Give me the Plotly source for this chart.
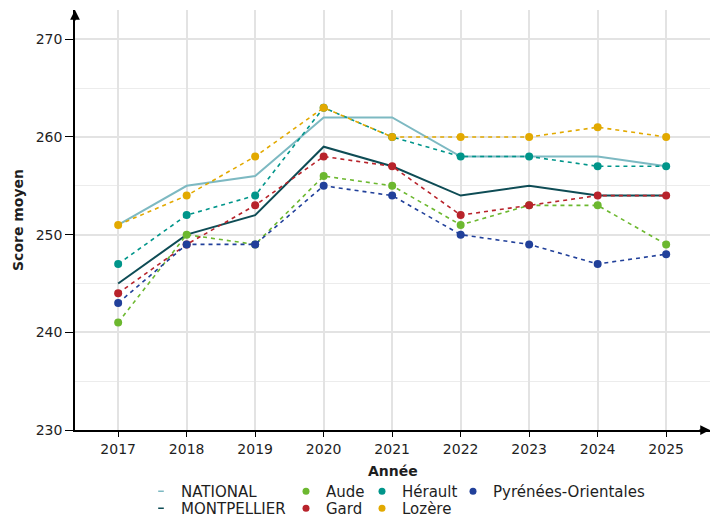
import plotly.graph_objects as go

years = [2017, 2018, 2019, 2020, 2021, 2022, 2023, 2024, 2025]
national = [251, 255, 256, 262, 262, 258, 258, 258, 257]
montpellier = [245, 250, 252, 259, 257, 254, 255, 254, 254]
aude = [241, 250, 249, 256, 255, 251, 253, 253, 249]
gard = [244, 249, 253, 258, 257, 252, 253, 254, 254]
herault = [247, 252, 254, 263, 260, 258, 258, 257, 257]
lozere = [251, 254, 258, 263, 260, 260, 260, 261, 260]
po = [243, 249, 249, 255, 254, 250, 249, 247, 248]

FONT = "DejaVu Sans"
TXT = "#1e1e1e"
fig = go.Figure()

# name, values, colour, legend text x (px), legend row
solid = [("NATIONAL", national, "#7db9c2", 181, 0),
         ("MONTPELLIER", montpellier, "#0e4c55", 181, 1)]
dashed = [("Aude", aude, "#6cb82f", 326, 0),
          ("Gard", gard, "#b8232b", 326, 1),
          ("Hérault", herault, "#00958a", 402, 0),
          ("Lozère", lozere, "#e2a900", 402, 1),
          ("Pyrénées-Orientales", po, "#21409a", 493, 0)]

for name, vals, col, _, _ in solid:
    fig.add_trace(go.Scatter(x=years, y=vals, mode="lines", name=name,
                             line=dict(color=col, width=2), showlegend=False))
for name, vals, col, _, _ in dashed:
    fig.add_trace(go.Scatter(x=years, y=vals, mode="lines+markers", name=name,
                             line=dict(color=col, width=1.6, dash="4px,4px"),
                             marker=dict(color=col, size=8), showlegend=False))

legends = {}
for i, (name, vals, col, tx, row) in enumerate(solid + dashed):
    key = "legend" if i == 0 else f"legend{i + 1}"
    if i < 2:
        marker = dict(symbol="line-ew", size=4, line=dict(color=col, width=1.5))
    else:
        marker = dict(color=col, size=7)
    fig.add_trace(go.Scatter(x=[None], y=[None], mode="markers", name=name,
                             marker=marker, legend=key, showlegend=True))
    top = 475 + 17 * row
    legends[key] = dict(x=(tx - 40) / 720, y=1 - top / 518,
                        xref="container", yref="container",
                        xanchor="left", yanchor="top", orientation="v",
                        font=dict(family=FONT, size=15, color=TXT),
                        bgcolor="rgba(0,0,0,0)", itemwidth=30)

fig.update_layout(
    width=720, height=518,
    margin=dict(l=75, r=10, t=10, b=88, autoexpand=False),
    plot_bgcolor="white", paper_bgcolor="white",
    font=dict(family=FONT, size=14, color=TXT),
    xaxis=dict(range=[2016.37, 2025.64], tickmode="array", tickvals=years,
               ticktext=[str(y) for y in years],
               showgrid=True, gridcolor="#e3e3e3", gridwidth=1.5,
               showline=True, linecolor="black", linewidth=1.5,
               ticks="outside", ticklen=5, tickcolor="black",
               zeroline=False, tickfont=dict(family=FONT, size=14, color=TXT)),
    yaxis=dict(range=[230, 273], tickmode="linear", tick0=230, dtick=10,
               showgrid=True, gridcolor="#e3e3e3", gridwidth=1.5,
               minor=dict(tickmode="linear", tick0=235, dtick=10, showgrid=True,
                          gridcolor="#ececec", gridwidth=1.2),
               showline=True, linecolor="black", linewidth=1.5,
               ticks="outside", ticklen=8, tickcolor="black",
               zeroline=False, tickfont=dict(family=FONT, size=14, color=TXT)),
    **legends,
)

# axis titles
fig.add_annotation(x=0.5, y=0, xref="paper", yref="paper", yshift=-41,
                   text="<b>Année</b>", showarrow=False, xanchor="center",
                   yanchor="middle", font=dict(family=FONT, size=14, color=TXT))
fig.add_annotation(x=0, y=0.5, xref="paper", yref="paper", xshift=-57,
                   text="<b>Score moyen</b>", showarrow=False, textangle=-90,
                   xanchor="center", yanchor="middle",
                   font=dict(family=FONT, size=14, color=TXT))

# axis arrows
fig.add_annotation(x=0, y=1, xref="x domain", yref="y domain", ax=0, ay=12,
                   showarrow=True, arrowhead=2, arrowsize=1.3, arrowwidth=1.5,
                   arrowcolor="black", text="")
fig.add_annotation(x=1, y=0, xref="x domain", yref="y domain", ax=-12, ay=0,
                   showarrow=True, arrowhead=2, arrowsize=1.3, arrowwidth=1.5,
                   arrowcolor="black", text="")

fig.write_html("out.html", config={"displayModeBar": False},
               post_script="document.body.style.margin='0';")
